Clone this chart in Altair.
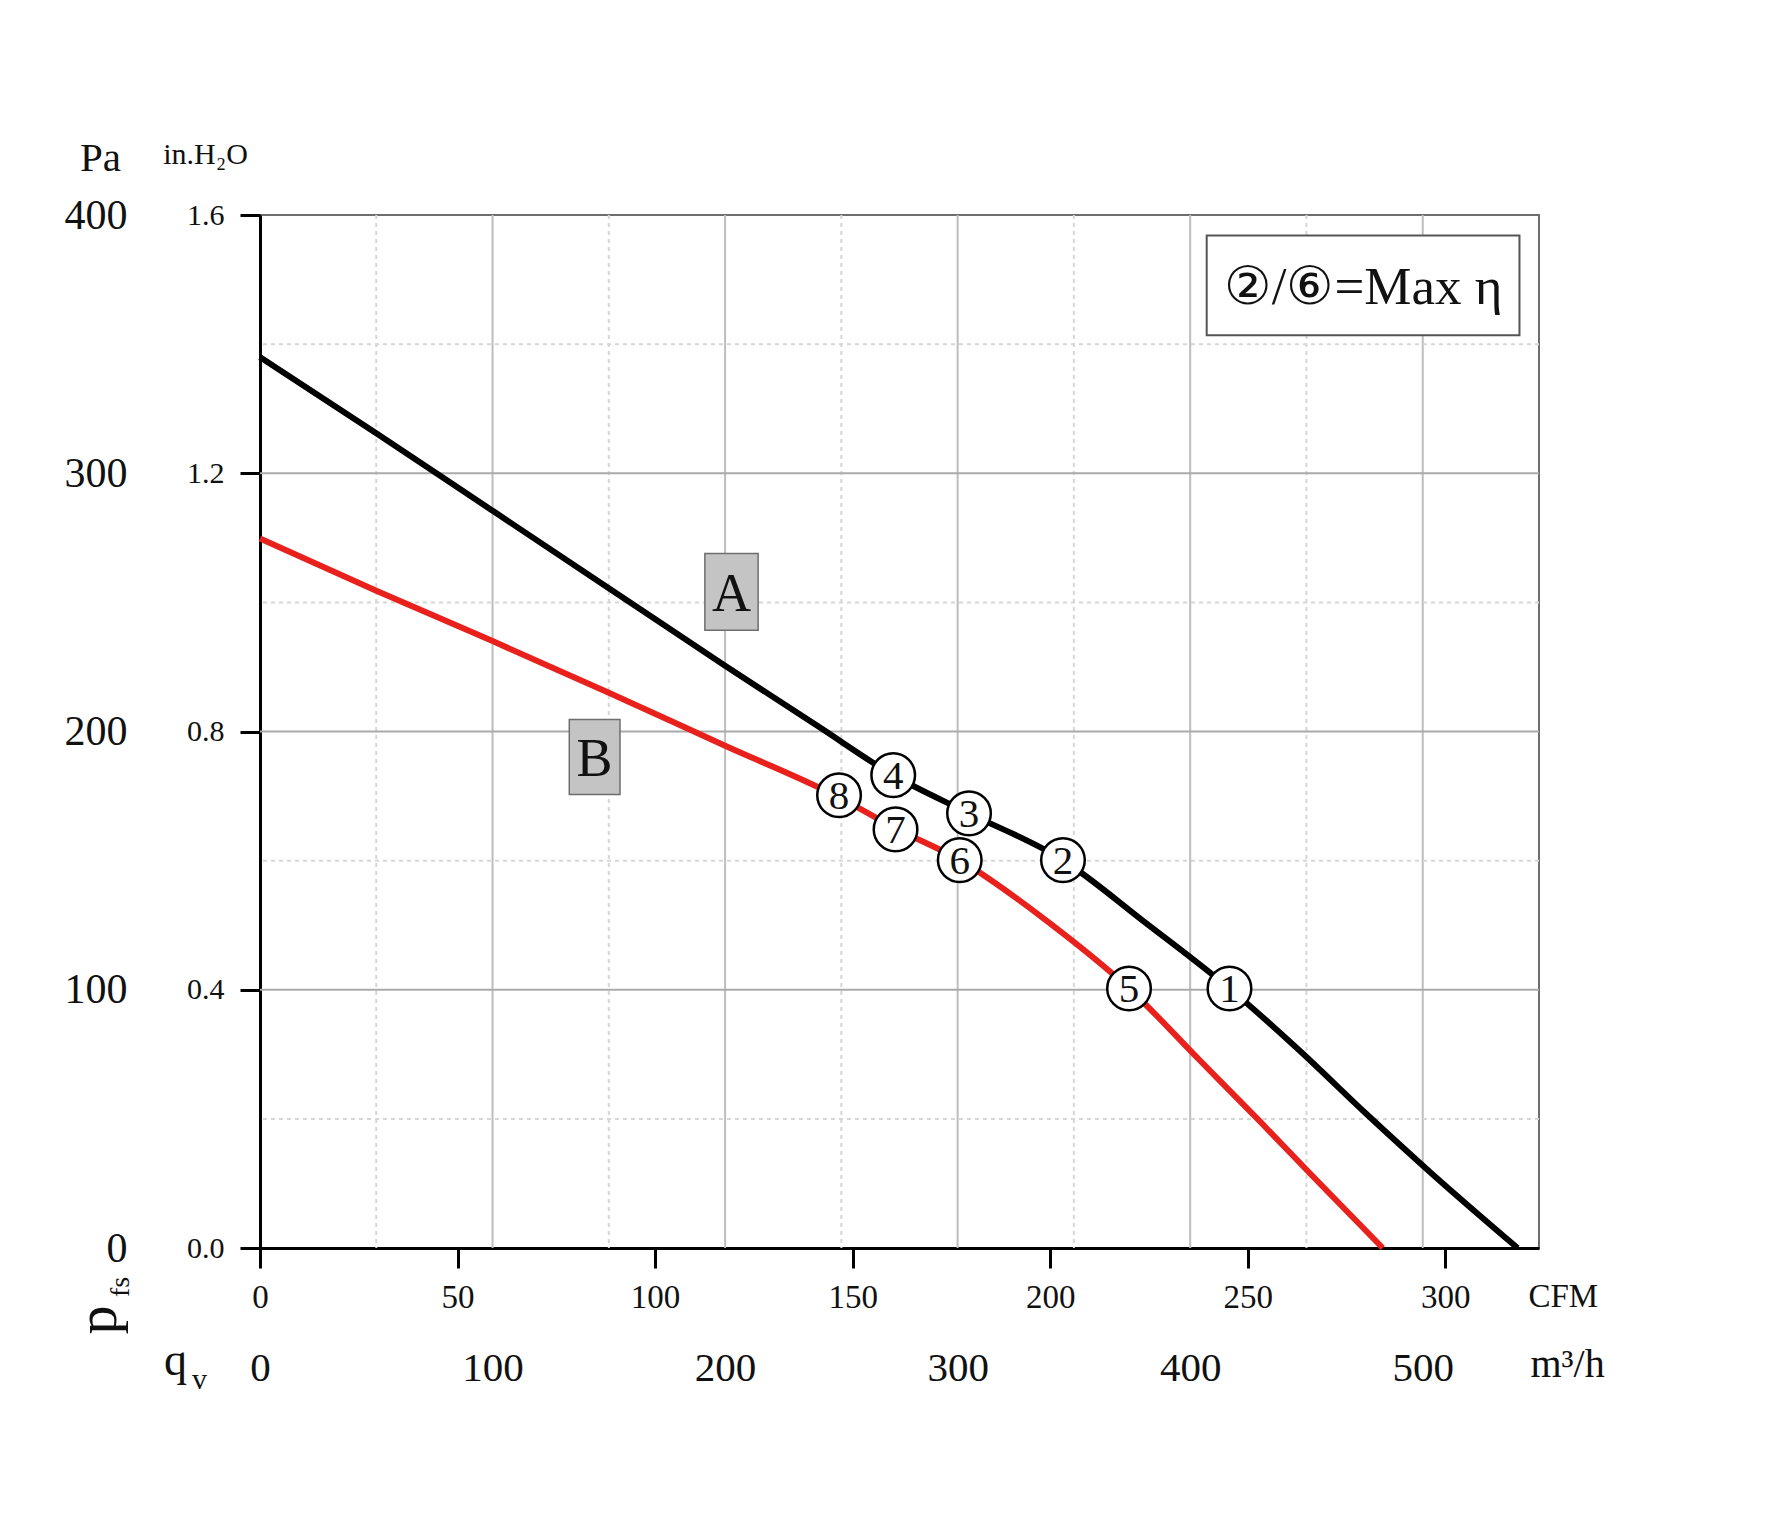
import altair as alt
import pandas as pd

SERIF = "Liberation Serif"
INK = "#111111"

# ---------------- data (flow in m3/h, pressure in Pa) ----------------
a_flow = [0, 50, 100, 150, 200, 240, 272.3, 304.9, 345.3, 380, 416.9, 447, 475.7, 504.3, 540.8]
a_pa = [345.0, 315.5, 285.5, 255.5, 225.5, 202.0, 183.1, 168.3, 150.2, 126.5, 100.5, 76.5, 52.0, 28.5, 0.0]

b_flow = [0, 50, 100, 150, 200, 249, 273.3, 300.9, 340, 373.7, 404, 430, 452.7, 482.8]
b_pa = [274.7, 254.5, 235.0, 215.0, 194.5, 174.5, 162.5, 150.2, 125.5, 100.5, 72.8, 49.0, 27.8, 0.0]

marker_label = ["1", "2", "3", "4", "5", "6", "7", "8"]
marker_flow = [416.9, 345.3, 304.9, 272.3, 373.7, 300.9, 273.3, 249.0]
marker_pa = [100.5, 150.2, 168.3, 183.1, 100.5, 150.2, 162.1, 175.3]

box_label = ["A", "B"]
box_x1 = [191.3, 133.0]
box_x2 = [214.2, 154.8]
box_y1 = [239.2, 175.6]
box_y2 = [268.9, 204.6]

legend_text = ["②/⑥=Max η"]
legend_x1 = [407.1]
legend_x2 = [541.6]
legend_y1 = [353.4]
legend_y2 = [392.1]

cfm_ticks = [0, 50, 100, 150, 200, 250, 300]
CFM_TO_M3H = 1.699
m3h_ticks = [0, 100, 200, 300, 400, 500]
pa_ticks = [0, 100, 200, 300, 400]

grid_major_x = [100, 200, 300, 400, 500]
grid_minor_x = [50, 150, 250, 350, 450]
grid_major_y = [100, 200, 300]
grid_minor_y = [50, 150, 250, 350]

# ---------------- scales & axes ----------------
x_scale = alt.Scale(domain=[0, 550], nice=False, zero=False)
y_scale = alt.Scale(domain=[0, 400], nice=False, zero=False)

cfm_axis = alt.Axis(
    orient="bottom", values=[c * CFM_TO_M3H for c in cfm_ticks],
    labelExpr="format(datum.value / 1.699, '.0f')",
    domain=True, domainColor="#000000", domainWidth=3,
    ticks=True, tickColor="#000000", tickWidth=3, tickSize=20,
    labelFont=SERIF, labelFontSize=33, labelColor=INK, labelPadding=13,
    labelBaseline="top", labelFlush=False, labelOverlap=False, labelBound=False,
    grid=False,
    title="CFM", titleFont=SERIF, titleFontSize=33, titleFontWeight="normal", titleColor=INK,
    titleX=1268, titleY=58, titleAlign="left", titleBaseline="alphabetic", titleAngle=0,
)
m3h_axis = alt.Axis(
    orient="bottom", values=m3h_ticks, format=".0f",
    domain=False, ticks=False, tickSize=0,
    labelFont=SERIF, labelFontSize=41, labelColor=INK, labelPadding=100,
    labelBaseline="top", labelFlush=False, labelOverlap=False, labelBound=False,
    grid=False,
    title="m³/h", titleFont=SERIF, titleFontSize=40, titleFontWeight="normal", titleColor=INK,
    titleX=1270, titleY=128, titleAlign="left", titleBaseline="alphabetic", titleAngle=0,
)
inh2o_axis = alt.Axis(
    orient="left", values=pa_ticks,
    labelExpr="format(datum.value / 250, '.1f')",
    domain=True, domainColor="#000000", domainWidth=3,
    ticks=True, tickColor="#000000", tickWidth=3, tickSize=20,
    labelFont=SERIF, labelFontSize=30, labelColor=INK, labelPadding=16,
    labelAlign="right", labelBaseline="middle", labelFlush=False, labelOverlap=False,
    grid=False,
    title="in.H₂O", titleFont=SERIF, titleFontSize=30, titleFontWeight="normal", titleColor=INK,
    titleX=-55, titleY=-52, titleAlign="center", titleBaseline="alphabetic", titleAngle=0,
)
pa_axis = alt.Axis(
    orient="left", values=pa_ticks, format=".0f",
    domain=False, ticks=False, tickSize=0,
    labelFont=SERIF, labelFontSize=42, labelColor=INK, labelPadding=133,
    labelAlign="right", labelBaseline="middle", labelFlush=False, labelOverlap=False,
    grid=False,
    title="Pa", titleFont=SERIF, titleFontSize=41, titleFontWeight="normal", titleColor=INK,
    titleX=-160, titleY=-45, titleAlign="center", titleBaseline="alphabetic", titleAngle=0,
)

# ---------------- layers ----------------
gx_minor = alt.Chart(pd.DataFrame({"q": grid_minor_x})).mark_rule(
    color="#d6d6d6", strokeWidth=2, strokeDash=[4, 4]
).encode(x=alt.X("q:Q", scale=x_scale, axis=None))

gx_major = alt.Chart(pd.DataFrame({"q": grid_major_x})).mark_rule(
    color="#bdbdbd", strokeWidth=2
).encode(x=alt.X("q:Q", scale=x_scale, axis=m3h_axis))

gy_minor = alt.Chart(pd.DataFrame({"p": grid_minor_y})).mark_rule(
    color="#d6d6d6", strokeWidth=2, strokeDash=[4, 4]
).encode(y=alt.Y("p:Q", scale=y_scale, axis=None))

gy_major = alt.Chart(pd.DataFrame({"p": grid_major_y})).mark_rule(
    color="#aaaaaa", strokeWidth=2
).encode(y=alt.Y("p:Q", scale=y_scale, axis=pa_axis))

curve_df = pd.DataFrame({
    "q": a_flow + b_flow,
    "p": a_pa + b_pa,
    "curve": ["A"] * len(a_flow) + ["B"] * len(b_flow),
})
curves = alt.Chart(curve_df).mark_line(strokeWidth=6, interpolate="monotone", strokeCap="butt").encode(
    x=alt.X("q:Q", scale=x_scale, axis=cfm_axis),
    y=alt.Y("p:Q", scale=y_scale, axis=inh2o_axis),
    color=alt.Color("curve:N", scale=alt.Scale(domain=["A", "B"], range=["#000000", "#e8211d"]), legend=None),
)

box_df = pd.DataFrame({"label": box_label, "x1": box_x1, "x2": box_x2, "y1": box_y1, "y2": box_y2})
boxes = alt.Chart(box_df).mark_rect(fill="#c4c4c4", stroke="#6e6e6e", strokeWidth=1.5).encode(
    x=alt.X("x1:Q", scale=x_scale, axis=None), x2="x2:Q",
    y=alt.Y("y1:Q", scale=y_scale, axis=None), y2="y2:Q",
)
box_text = alt.Chart(box_df).transform_calculate(
    xm="(datum.x1 + datum.x2) / 2", ym="(datum.y1 + datum.y2) / 2"
).mark_text(font=SERIF, fontSize=54, color=INK, baseline="middle", dy=3).encode(
    x=alt.X("xm:Q", scale=x_scale, axis=None),
    y=alt.Y("ym:Q", scale=y_scale, axis=None),
    text="label:N",
)

leg_df = pd.DataFrame({"t": legend_text, "x1": legend_x1, "x2": legend_x2, "y1": legend_y1, "y2": legend_y2})
leg_box = alt.Chart(leg_df).mark_rect(fill="white", stroke="#555555", strokeWidth=2).encode(
    x=alt.X("x1:Q", scale=x_scale, axis=None), x2="x2:Q",
    y=alt.Y("y1:Q", scale=y_scale, axis=None), y2="y2:Q",
)
leg_text = alt.Chart(leg_df).transform_calculate(
    xm="(datum.x1 + datum.x2) / 2", ym="(datum.y1 + datum.y2) / 2"
).mark_text(font=SERIF, fontSize=53, color=INK, baseline="middle", dy=3).encode(
    x=alt.X("xm:Q", scale=x_scale, axis=None),
    y=alt.Y("ym:Q", scale=y_scale, axis=None),
    text="t:N",
)

mk_df = pd.DataFrame({"q": marker_flow, "p": marker_pa, "n": marker_label})
mk_circle = alt.Chart(mk_df).mark_circle(size=1900, fill="white", stroke="#000000", strokeWidth=2.5, opacity=1).encode(
    x=alt.X("q:Q", scale=x_scale, axis=None),
    y=alt.Y("p:Q", scale=y_scale, axis=None),
)
mk_text = alt.Chart(mk_df).mark_text(font=SERIF, fontSize=41, color=INK, baseline="middle", dy=2).encode(
    x=alt.X("q:Q", scale=x_scale, axis=None),
    y=alt.Y("p:Q", scale=y_scale, axis=None),
    text="n:N",
)

def label(txt, px, py, size, angle=0, align="left"):
    return alt.Chart(pd.DataFrame({"t": [txt]})).mark_text(
        font=SERIF, fontSize=size, color=INK, angle=angle, align=align, baseline="alphabetic"
    ).encode(text="t:N", x=alt.value(px), y=alt.value(py))

p_lbl = label("p", -144, 1105, 58, angle=270, align="center")
fs_lbl = label("fs", -131, 1072, 28, angle=270, align="center")
q_lbl = label("q", -96, 1160, 46)
v_lbl = label("v", -68, 1174, 30)

chart = alt.layer(
    gx_minor, gx_major, gy_minor, gy_major,
    curves, boxes, box_text, leg_box, leg_text, mk_circle, mk_text,
    p_lbl, fs_lbl, q_lbl, v_lbl,
).resolve_axis(
    x="independent", y="independent"
).properties(
    width=1279, height=1033,
    autosize=alt.AutoSizeParams(type="none"),
    padding={"left": 260, "top": 215, "right": 232, "bottom": 281},
    background="white",
).configure_view(
    stroke="#6e6e6e", strokeWidth=2,
)

chart.save("out.html", embed_options={"renderer": "svg", "actions": False})
